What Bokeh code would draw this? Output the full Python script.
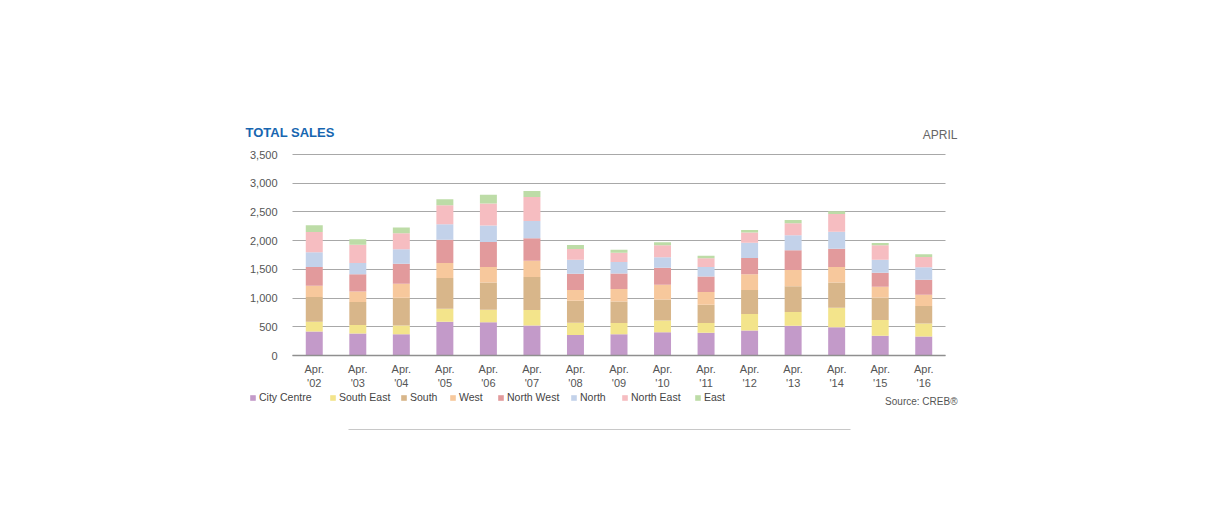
from bokeh.plotting import figure
from bokeh.models import (ColumnDataSource, FixedTicker, Label, Legend, LegendItem,
                          NumeralTickFormatter, BoxAnnotation, Range1d, Grid)
from bokeh.embed import file_html
from bokeh.resources import INLINE

years = ["'02", "'03", "'04", "'05", "'06", "'07", "'08", "'09",
         "'10", "'11", "'12", "'13", "'14", "'15", "'16"]
tick_labels = ["Apr.\n" + y for y in years]
y_ticks = [0, 500, 1000, 1500, 2000, 2500, 3000, 3500]

regions = ["City Centre", "South East", "South", "West",
           "North West", "North", "North East", "East"]

city_centre = [419, 384, 372, 587, 581, 523, 355, 372, 407, 395, 436, 517, 494, 343, 331]
south_east  = [168, 145, 151, 227, 215, 268, 215, 192, 203, 169, 285, 239, 337, 273, 227]
south       = [430, 401, 483, 535, 477, 575, 383, 378, 367, 320, 419, 448, 442, 396, 302]
west        = [198, 186, 244, 261, 268, 285, 187, 215, 256, 221, 273, 284, 268, 186, 198]
north_west  = [326, 297, 349, 407, 436, 389, 284, 273, 296, 272, 285, 343, 319, 244, 262]
north       = [256, 197, 250, 268, 285, 303, 244, 198, 180, 164, 267, 262, 297, 226, 215]
north_east  = [354, 320, 279, 331, 383, 419, 186, 162, 210, 151, 175, 209, 308, 251, 180]
east        = [116,  93,  99, 105, 152, 104,  70,  53,  52,  46,  46,  58,  47,  40,  47]

colors = ["#C39AC9", "#F3E48B", "#D8B68A", "#F7C89C",
          "#E29A9C", "#C3D2EA", "#F6BDC1", "#BDDCA7"]

FONT = "Liberation Sans"

xs = [i + 0.5 for i in range(len(years))]
data = {"x": xs}
keys = ["cc", "se", "s", "w", "nw", "n", "ne", "e"]
for k, arr in zip(keys, [city_centre, south_east, south, west,
                         north_west, north, north_east, east]):
    data[k] = arr
source = ColumnDataSource(data)

# page-pixel geometry of the reference
PX0, PX15 = 292.0, 945.0     # x = 0 and x = 15
PY0, PY3500 = 355.0, 154.0   # y = 0 and y = 3500
sx = (PX15 - PX0) / 15.0
sy = (PY0 - PY3500) / 3500.0

def dx(px):
    return (px - PX0) / sx

def dy(py):
    return (PY0 - py) / sy

FL, FR, FT, FB = 240, 960, 120, 440
W, H = 1190, 490

p = figure(width=W, height=H,
           x_range=Range1d(dx(FL), dx(FR)), y_range=Range1d(dy(FB), dy(FT)),
           output_backend="svg", toolbar_location=None,
           min_border_left=FL, min_border_right=W - FR,
           min_border_top=FT, min_border_bottom=H - FB)
p.outline_line_color = None
p.background_fill_color = "white"
p.border_fill_color = "white"

# axes placed at data origin
p.xaxis.fixed_location = 0
p.xaxis.bounds = (0, 15)
p.xaxis.ticker = FixedTicker(ticks=xs)
p.xaxis.major_label_overrides = {x: t for x, t in zip(xs, tick_labels)}
p.xaxis.major_tick_line_color = None
p.xaxis.minor_tick_line_color = None
p.xaxis.axis_line_color = "#8f8f8f"
p.xaxis.axis_line_width = 1.5
p.xaxis.major_label_text_font = FONT
p.xaxis.major_label_text_font_size = "11px"
p.xaxis.major_label_text_color = "#555555"
p.xaxis.major_label_standoff = 1

p.yaxis.fixed_location = 0
p.yaxis.bounds = (0, 3500)
p.yaxis.ticker = FixedTicker(ticks=y_ticks)
p.yaxis.formatter = NumeralTickFormatter(format="0,0")
p.yaxis.axis_line_color = None
p.yaxis.major_tick_line_color = None
p.yaxis.minor_tick_line_color = None
p.yaxis.major_label_text_font = FONT
p.yaxis.major_label_text_font_size = "11px"
p.yaxis.major_label_text_color = "#555555"
p.yaxis.major_label_standoff = 9

p.xgrid.grid_line_color = None
p.ygrid.ticker = FixedTicker(ticks=y_ticks)
p.ygrid.grid_line_color = "#a8a8a8"
p.ygrid.grid_line_width = 1
if "cross_bounds" in Grid.properties():
    p.ygrid.cross_bounds = (0, 15)
else:
    p.ygrid.grid_line_color = None
    p.segment(x0=0, x1=15, y0=y_ticks, y1=y_ticks, line_color="#a8a8a8",
              line_width=1, level="underlay")

rs = p.vbar_stack(keys, x="x", width=0.39, source=source,
                  color=colors, line_color=None)

p.add_layout(Label(x=dx(245), y=dy(132), text="TOTAL SALES",
                   text_font=FONT, text_font_size="13px", text_font_style="bold",
                   text_color="#1766B0", text_baseline="middle", text_align="left"))
p.add_layout(Label(x=dx(957), y=dy(134), text="APRIL",
                   text_font=FONT, text_font_size="12px",
                   text_color="#666666", text_baseline="middle", text_align="right"))
p.add_layout(Label(x=dx(957), y=dy(401), text="Source: CREB®",
                   text_font=FONT, text_font_size="10px",
                   text_color="#555555", text_baseline="middle", text_align="right"))

p.add_layout(BoxAnnotation(left=dx(348), right=dx(850), top=dy(428.5), bottom=dy(429.5),
                           fill_color="#c8c8c8", fill_alpha=1, line_color=None))

# one legend per entry, so each sits where the reference places it
legend_x = [249, 329, 400, 449, 497, 570, 621, 694]
for name, r, lx in zip(regions, rs, legend_x):
    lg = Legend(items=[LegendItem(label=name, renderers=[r])],
                orientation="horizontal", location=(lx - FL, FB - 403),
                glyph_width=7, glyph_height=7, label_standoff=3, spacing=0,
                padding=0, margin=0, border_line_color=None,
                background_fill_alpha=0, label_width=0, label_height=12,
                label_text_font=FONT, label_text_font_size="10.5px",
                label_text_color="#444444")
    p.add_layout(lg, "center")

open("out.html", "w").write(file_html(p, INLINE))
